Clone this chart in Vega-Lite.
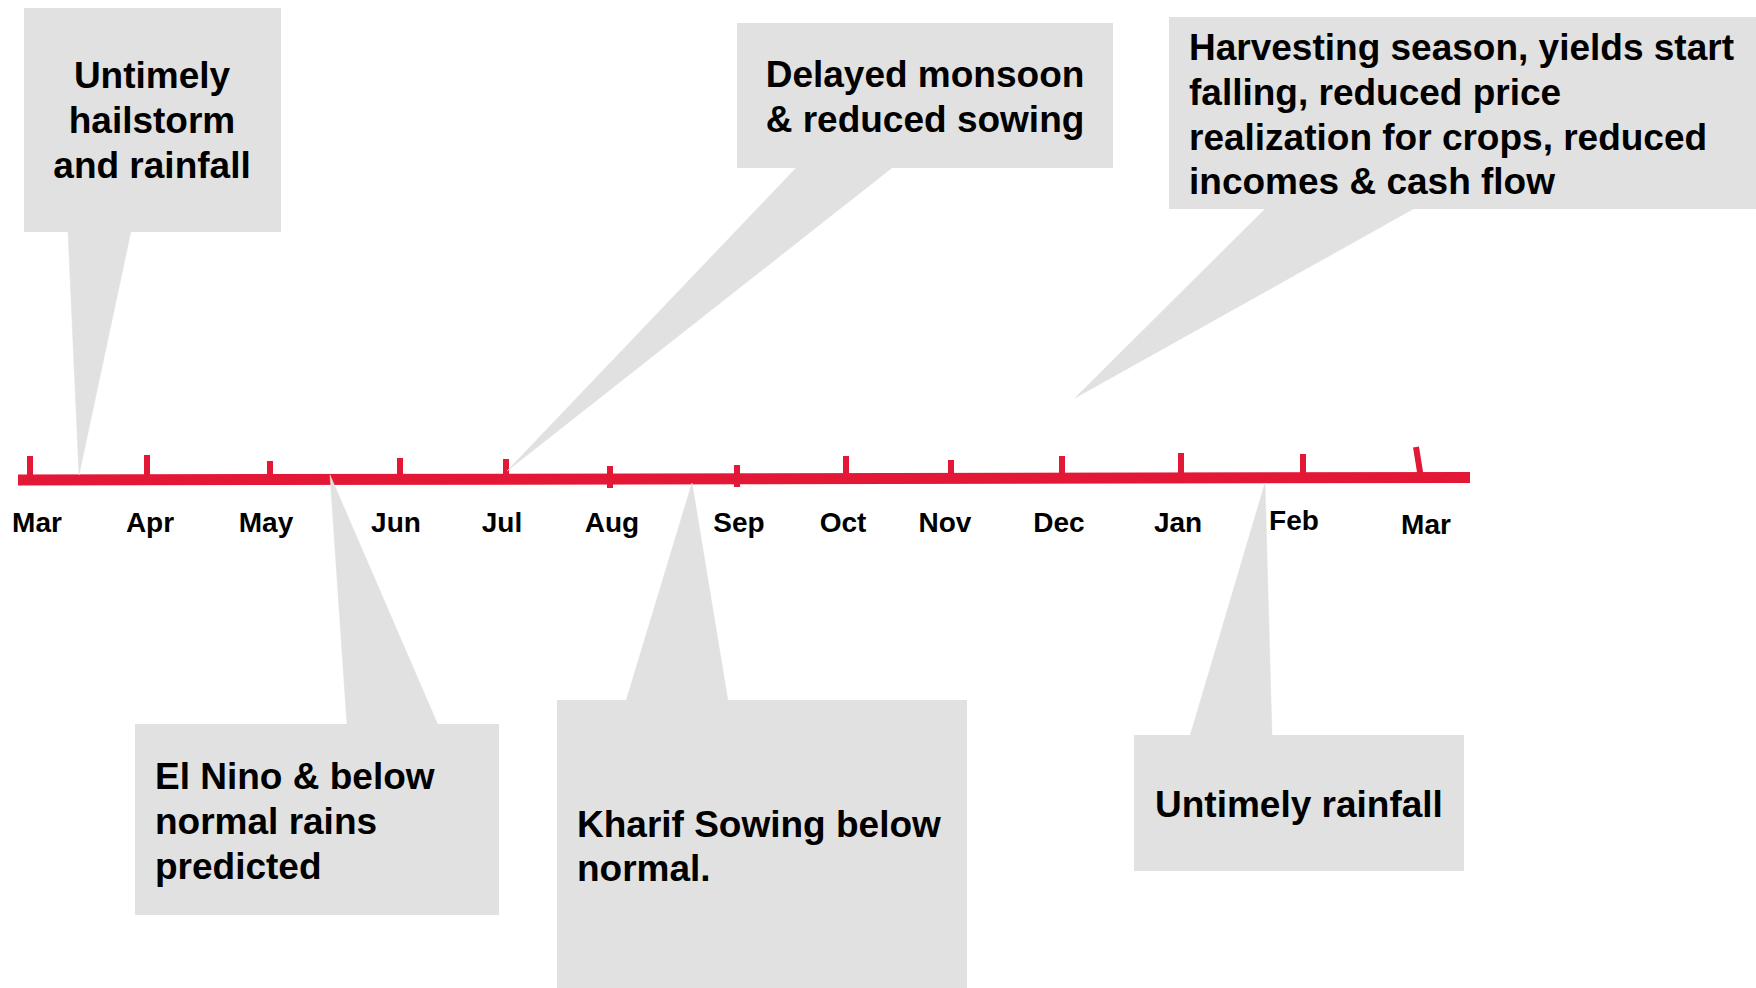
{
  "$schema": "https://vega.github.io/schema/vega-lite/v6.json",
  "width": 1756,
  "height": 988,
  "autosize": {"type": "fit", "contains": "padding"},
  "padding": 0,
  "background": "white",
  "config": {"view": {"stroke": null}},
  "datasets": {
    "boxes": [
      {"id": "b1", "x0": 24, "x1": 281, "y0": 8, "y1": 232},
      {"id": "b2", "x0": 737, "x1": 1113, "y0": 23, "y1": 168},
      {"id": "b3", "x0": 1169, "x1": 1756, "y0": 17, "y1": 209},
      {"id": "b4", "x0": 135, "x1": 499, "y0": 724, "y1": 915},
      {"id": "b5", "x0": 557, "x1": 967, "y0": 700, "y1": 988},
      {"id": "b6", "x0": 1134, "x1": 1464, "y0": 735, "y1": 871}
    ],
    "tails": [
      {"tail": "t1", "k": 1, "x": 68, "y": 231},
      {"tail": "t1", "k": 2, "x": 131, "y": 231},
      {"tail": "t1", "k": 3, "x": 79, "y": 475},
      {"tail": "t2", "k": 1, "x": 797, "y": 167},
      {"tail": "t2", "k": 2, "x": 893, "y": 167},
      {"tail": "t2", "k": 3, "x": 507, "y": 471},
      {"tail": "t3", "k": 1, "x": 1266, "y": 208},
      {"tail": "t3", "k": 2, "x": 1415, "y": 208},
      {"tail": "t3", "k": 3, "x": 1075, "y": 398},
      {"tail": "t4", "k": 1, "x": 347, "y": 725},
      {"tail": "t4", "k": 2, "x": 438, "y": 725},
      {"tail": "t4", "k": 3, "x": 330, "y": 475},
      {"tail": "t5", "k": 1, "x": 626, "y": 701},
      {"tail": "t5", "k": 2, "x": 728, "y": 701},
      {"tail": "t5", "k": 3, "x": 692, "y": 483},
      {"tail": "t6", "k": 1, "x": 1190, "y": 736},
      {"tail": "t6", "k": 2, "x": 1272, "y": 736},
      {"tail": "t6", "k": 3, "x": 1265, "y": 483}
    ],
    "timeline": [
      {"x0": 18, "y0": 480, "x1": 1470, "y1": 477.5}
    ],
    "ticks": [
      {"m": "Mar", "xb": 30, "xt": 30, "top": 456, "bottom": 480},
      {"m": "Apr", "xb": 147, "xt": 147, "top": 455, "bottom": 480},
      {"m": "May", "xb": 270, "xt": 270, "top": 461, "bottom": 480},
      {"m": "Jun", "xb": 400, "xt": 400, "top": 458, "bottom": 480},
      {"m": "Jul", "xb": 506, "xt": 506, "top": 459, "bottom": 480},
      {"m": "Aug", "xb": 610, "xt": 610, "top": 466, "bottom": 488},
      {"m": "Sep", "xb": 737, "xt": 737, "top": 465, "bottom": 487},
      {"m": "Oct", "xb": 846, "xt": 846, "top": 456, "bottom": 479},
      {"m": "Nov", "xb": 951, "xt": 951, "top": 460, "bottom": 479},
      {"m": "Dec", "xb": 1062, "xt": 1062, "top": 456, "bottom": 479},
      {"m": "Jan", "xb": 1181, "xt": 1181, "top": 453, "bottom": 478},
      {"m": "Feb", "xb": 1303, "xt": 1303, "top": 454, "bottom": 478},
      {"m": "Mar", "xb": 1421, "xt": 1416, "top": 447, "bottom": 478}
    ],
    "months": [
      {"label": "Mar", "x": 37, "y": 532},
      {"label": "Apr", "x": 150, "y": 532},
      {"label": "May", "x": 266, "y": 532},
      {"label": "Jun", "x": 396, "y": 532},
      {"label": "Jul", "x": 502, "y": 532},
      {"label": "Aug", "x": 612, "y": 532},
      {"label": "Sep", "x": 739, "y": 532},
      {"label": "Oct", "x": 843, "y": 532},
      {"label": "Nov", "x": 945, "y": 532},
      {"label": "Dec", "x": 1059, "y": 532},
      {"label": "Jan", "x": 1178, "y": 532},
      {"label": "Feb", "x": 1294, "y": 530},
      {"label": "Mar", "x": 1426, "y": 534}
    ],
    "notes": [
      {"txt": "Untimely", "pos": "center", "x": 152, "y": 88},
      {"txt": "hailstorm", "pos": "center", "x": 152, "y": 133},
      {"txt": "and rainfall", "pos": "center", "x": 152, "y": 178},
      {"txt": "Delayed monsoon", "pos": "center", "x": 925, "y": 87},
      {"txt": "& reduced sowing", "pos": "center", "x": 925, "y": 132},
      {"txt": "Harvesting season, yields start", "pos": "left", "x": 1189, "y": 60},
      {"txt": "falling, reduced price", "pos": "left", "x": 1189, "y": 105},
      {"txt": "realization for crops, reduced", "pos": "left", "x": 1189, "y": 150},
      {"txt": "incomes & cash flow", "pos": "left", "x": 1189, "y": 194},
      {"txt": "El Nino & below", "pos": "left", "x": 155, "y": 789},
      {"txt": "normal rains", "pos": "left", "x": 155, "y": 834},
      {"txt": "predicted", "pos": "left", "x": 155, "y": 879},
      {"txt": "Kharif Sowing below", "pos": "left", "x": 577, "y": 837},
      {"txt": "normal.", "pos": "left", "x": 577, "y": 881},
      {"txt": "Untimely rainfall", "pos": "left", "x": 1155, "y": 817}
    ]
  },
  "layer": [
    {
      "data": {"name": "boxes"},
      "mark": {"type": "rect", "fill": "#e1e1e1"},
      "encoding": {
        "x": {"field": "x0", "type": "quantitative", "scale": {"domain": [0, 1756], "nice": false, "zero": false}, "axis": null},
        "x2": {"field": "x1"},
        "y": {"field": "y0", "type": "quantitative", "scale": {"domain": [0, 988], "reverse": true, "nice": false, "zero": false}, "axis": null},
        "y2": {"field": "y1"}
      }
    },
    {
      "data": {"name": "timeline"},
      "mark": {"type": "rule", "color": "#e31837", "strokeWidth": 11, "strokeCap": "butt"},
      "encoding": {
        "x": {"field": "x0", "type": "quantitative", "scale": {"domain": [0, 1756], "nice": false, "zero": false}, "axis": null},
        "x2": {"field": "x1"},
        "y": {"field": "y0", "type": "quantitative", "scale": {"domain": [0, 988], "reverse": true, "nice": false, "zero": false}, "axis": null},
        "y2": {"field": "y1"}
      }
    },
    {
      "data": {"name": "ticks"},
      "mark": {"type": "rule", "color": "#e31837", "strokeWidth": 6, "strokeCap": "butt"},
      "encoding": {
        "x": {"field": "xb", "type": "quantitative", "scale": {"domain": [0, 1756], "nice": false, "zero": false}, "axis": null},
        "x2": {"field": "xt"},
        "y": {"field": "bottom", "type": "quantitative", "scale": {"domain": [0, 988], "reverse": true, "nice": false, "zero": false}, "axis": null},
        "y2": {"field": "top"}
      }
    },
    {
      "data": {"name": "tails"},
      "mark": {"type": "line", "interpolate": "linear-closed", "fill": "#e1e1e1", "stroke": "#e1e1e1", "strokeWidth": 0.5},
      "encoding": {
        "x": {"field": "x", "type": "quantitative", "scale": {"domain": [0, 1756], "nice": false, "zero": false}, "axis": null},
        "y": {"field": "y", "type": "quantitative", "scale": {"domain": [0, 988], "reverse": true, "nice": false, "zero": false}, "axis": null},
        "detail": {"field": "tail", "type": "nominal"},
        "order": {"field": "k", "type": "quantitative"}
      }
    },
    {
      "data": {"name": "months"},
      "mark": {"type": "text", "font": "Liberation Sans", "fontWeight": "bold", "fontSize": 28, "align": "center", "baseline": "alphabetic", "color": "#000000"},
      "encoding": {
        "x": {"field": "x", "type": "quantitative", "scale": {"domain": [0, 1756], "nice": false, "zero": false}, "axis": null},
        "y": {"field": "y", "type": "quantitative", "scale": {"domain": [0, 988], "reverse": true, "nice": false, "zero": false}, "axis": null},
        "text": {"field": "label", "type": "nominal"}
      }
    },
    {
      "data": {"name": "notes"},
      "transform": [{"filter": "datum.pos === 'center'"}],
      "mark": {"type": "text", "font": "Liberation Sans", "fontWeight": "bold", "fontSize": 37, "align": "center", "baseline": "alphabetic", "color": "#000000"},
      "encoding": {
        "x": {"field": "x", "type": "quantitative", "scale": {"domain": [0, 1756], "nice": false, "zero": false}, "axis": null},
        "y": {"field": "y", "type": "quantitative", "scale": {"domain": [0, 988], "reverse": true, "nice": false, "zero": false}, "axis": null},
        "text": {"field": "txt", "type": "nominal"}
      }
    },
    {
      "data": {"name": "notes"},
      "transform": [{"filter": "datum.pos === 'left'"}],
      "mark": {"type": "text", "font": "Liberation Sans", "fontWeight": "bold", "fontSize": 37, "align": "left", "baseline": "alphabetic", "color": "#000000"},
      "encoding": {
        "x": {"field": "x", "type": "quantitative", "scale": {"domain": [0, 1756], "nice": false, "zero": false}, "axis": null},
        "y": {"field": "y", "type": "quantitative", "scale": {"domain": [0, 988], "reverse": true, "nice": false, "zero": false}, "axis": null},
        "text": {"field": "txt", "type": "nominal"}
      }
    }
  ]
}
